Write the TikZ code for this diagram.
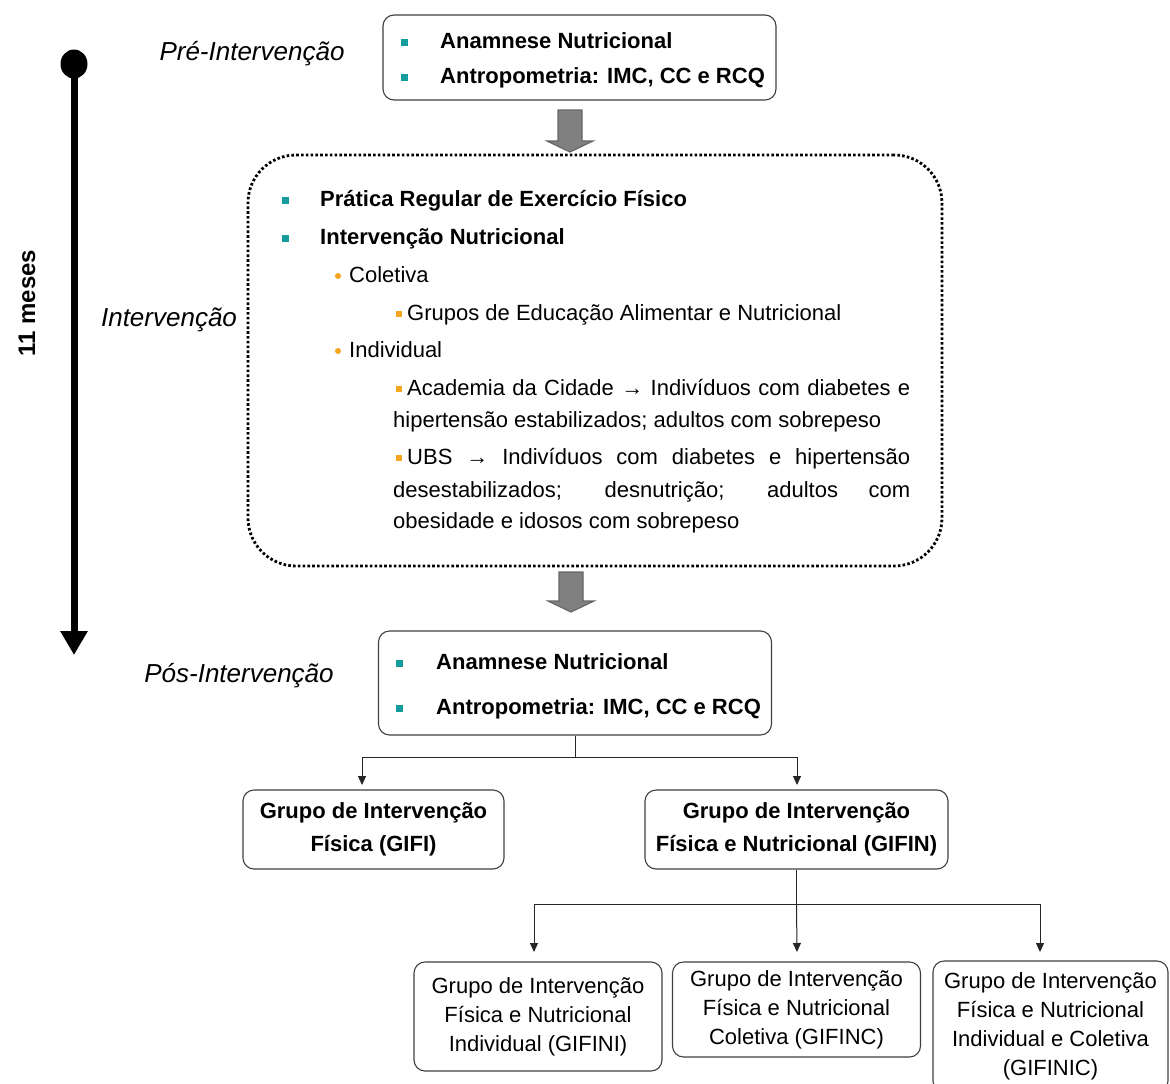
\documentclass[tikz,border=0pt]{standalone}
\usepackage{fontspec}
\setmainfont{Liberation Sans}
\usetikzlibrary{arrows.meta,shapes.geometric}
\definecolor{tealb}{RGB}{20,155,155}
\definecolor{orangeb}{RGB}{245,165,30}
\definecolor{arrowgray}{RGB}{128,128,128}
\begin{document}
\begin{tikzpicture}[x=1pt,y=-1pt,
 box/.style={draw=black!75, line width=1.1pt, rounded corners=11pt, inner sep=0pt},
 dotbox/.style={draw=black, line width=2.8pt, dash pattern=on 2.6pt off 2.2pt, rounded corners=48pt, inner sep=0pt},
 tsq/.style={fill=tealb, minimum size=7pt, inner sep=0pt},
 osq/.style={fill=orangeb, minimum size=6.5pt, inner sep=0pt},
 odot/.style={circle, fill=orangeb, minimum size=6pt, inner sep=0pt},
 bt/.style={anchor=west, inner sep=0pt, font=\fontsize{22}{26}\selectfont\bfseries, text height=16pt, text depth=4pt},
 rt/.style={anchor=west, inner sep=0pt, font=\fontsize{22}{26}\selectfont, text height=16pt, text depth=4pt},
 lab/.style={font=\fontsize{26}{30}\selectfont\itshape, inner sep=0pt},
 conn/.style={line width=1pt, draw=black!85},
 tip/.style={-{Triangle[length=9pt,width=8pt]}},
 garrow/.style={fill=arrowgray, draw=black!60, line width=1.2pt},
 gb/.style={align=center, font=\fontsize{22}{33}\selectfont\bfseries},
 gr/.style={align=center, font=\fontsize{22}{29}\selectfont},
]
\clip (0,0) rectangle (1170,1084);
\fill[white] (0,0) rectangle (1170,1084);

% timeline
\node[ellipse, fill=black, minimum width=27pt, minimum height=29pt, inner sep=0pt] (tstart) at (74,64) {};
\coordinate (tend) at (74,655);
\draw[line width=7pt, -{Triangle[length=24pt,width=26pt]}] (tstart.center) -- (tend);
\node[rotate=90, font=\fontsize{24}{26}\selectfont\bfseries, inner sep=0pt] (meses) at (27,303) {11 meses};

% labels
\node[lab] (lpre) at (252,54) {Pré-Intervenção};
\node[lab] (lint) at (169,320) {Intervenção};
\node[lab] (lpos) at (239,676) {Pós-Intervenção};

% pre box
\node[box, minimum width=393pt, minimum height=85pt] (pre) at (579.5,57.5) {};
\node[tsq] (p1) at (404,42) {};
\node[bt] (pt1) at (440,42) {Anamnese Nutricional};
\node[tsq] (p2) at (404,77) {};
\node[bt] (pt2) at (440,77) {Antropometria: IMC, CC e RCQ};

% block arrow 1
\draw[garrow, shift={(570,110)}] (-12,0) -- (12,0) -- (12,31) -- (23,31) -- (0,42) -- (-23,31) -- (-12,31) -- cycle;

% dotted box
\node[dotbox, minimum width=694pt, minimum height=411pt] (int) at (595,360.5) {};
\node[tsq] (i1) at (285,200) {};
\node[bt] (it1) at (320,200) {Prática Regular de Exercício Físico};
\node[tsq] (i2) at (285,238) {};
\node[bt] (it2) at (320,238) {Intervenção Nutricional};
\node[odot] (c1) at (338,276) {};
\node[rt] (ct1) at (349,276) {Coletiva};
\node[osq] (g1) at (399,314) {};
\node[rt] (gt1) at (407,314) {Grupos de Educação Alimentar e Nutricional};
\node[odot] (c2) at (338,351) {};
\node[rt] (ct2) at (349,351) {Individual};
\node[osq] (g2) at (399,389) {};
\node[rt] (gt2) at (407,389) {\makebox[503pt][s]{Academia da Cidade → Indivíduos com diabetes e}};
\node[rt] (gt2b) at (393,421) {hipertensão estabilizados; adultos com sobrepeso};
\node[osq] (g3) at (399,458) {};
\node[rt] (gt3) at (407,458) {\makebox[503pt][s]{UBS → Indivíduos com diabetes e hipertensão}};
\node[rt] (gt3b) at (393,491) {\makebox[517pt][s]{desestabilizados; desnutrição; adultos com}};
\node[rt] (gt3c) at (393,522) {obesidade e idosos com sobrepeso};

% block arrow 2
\draw[garrow, shift={(571,572)}] (-12,0) -- (12,0) -- (12,29) -- (23,29) -- (0,40) -- (-23,29) -- (-12,29) -- cycle;

% pos box
\node[box, minimum width=393pt, minimum height=104pt] (pos) at (575,683) {};
\node[tsq] (q1) at (399,663) {};
\node[bt] (qt1) at (436,663) {Anamnese Nutricional};
\node[tsq] (q2) at (399,708) {};
\node[bt] (qt2) at (436,708) {Antropometria: IMC, CC e RCQ};

% groups
\node[box, gb, minimum width=261pt, minimum height=79pt] (gifi) at (373.5,829.5) {Grupo de Intervenção\\Física (GIFI)};
\node[box, gb, minimum width=303pt, minimum height=79pt] (gifin) at (796.5,829.5) {Grupo de Intervenção\\Física e Nutricional (GIFIN)};
\node[box, gr, minimum width=248pt, minimum height=109pt] (gifini) at (538,1016.5) {Grupo de Intervenção\\Física e Nutricional\\Individual (GIFINI)};
\node[box, gr, minimum width=248pt, minimum height=95pt] (gifinc) at (796.5,1009.5) {Grupo de Intervenção\\Física e Nutricional\\Coletiva (GIFINC)};
\node[box, gr, minimum width=235pt, minimum height=131pt] (gifinic) at (1050.5,1026.5) {Grupo de Intervenção\\Física e Nutricional\\Individual e Coletiva\\(GIFINIC)};

% connectors
\path (pos.south) ++(0,22) coordinate (j1);
\coordinate (a1) at (362,785);
\coordinate (a2) at (797,785);
\draw[conn] (pos.south) -- (j1);
\draw[conn,tip] (j1) -| (a1);
\draw[conn,tip] (j1) -| (a2);
\path (gifin.south) ++(0,35) coordinate (j2);
\coordinate (a3) at (534,952);
\coordinate (a4) at (797,952);
\coordinate (a5) at (1040,952);
\draw[conn] (gifin.south) -- (j2);
\draw[conn,tip] (j2) -| (a3);
\draw[conn,tip] (j2) -- (a4);
\draw[conn,tip] (j2) -| (a5);
\end{tikzpicture}
\end{document}
